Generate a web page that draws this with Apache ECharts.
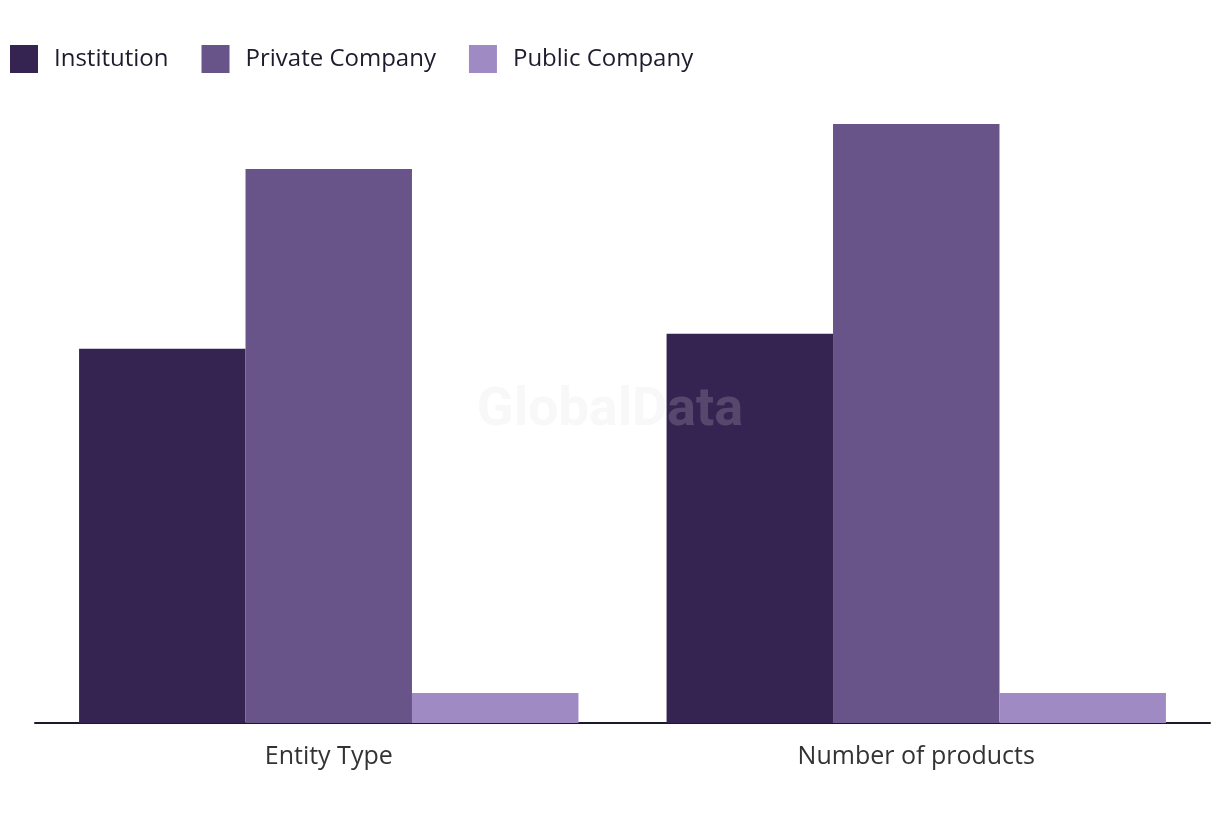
<!DOCTYPE html>
<html>
<head>
<meta charset="utf-8">
<script src="https://cdn.jsdelivr.net/npm/echarts@6/dist/echarts.min.js"></script>
<style>html,body{margin:0;padding:0;background:#fff;}#c{width:1220px;height:820px;}</style>
</head>
<body>
<div id="c"></div>
<script>
const categories = ['Entity Type', 'Number of products'];
const seriesNames = ['Institution', 'Private Company', 'Public Company'];
const institution = [25, 26];
const privateCompany = [37, 40];
const publicCompany = [2, 2];
const colors = ['#352452', '#69548a', '#a08ac4'];

const chart = echarts.init(document.getElementById('c'));
const values = [institution, privateCompany, publicCompany];
chart.setOption({
  animation: false,
  color: colors,
  legend: {
    left: 5, top: 40,
    itemWidth: 28, itemHeight: 28, itemGap: 33,
    icon: 'rect',
    textStyle: { fontFamily: 'Open Sans', fontSize: 24, color: '#1e1b2e', padding: [0, 0, 0, 11] },
    data: seriesNames
  },
  grid: { left: 35, right: 10, top: 124, bottom: 97, containLabel: false },
  xAxis: {
    type: 'category', data: categories,
    axisLine: { lineStyle: { color: '#1a1a2e', width: 2 } },
    axisTick: { show: false },
    axisLabel: { fontFamily: 'Open Sans', fontSize: 25, color: '#333', margin: 21 }
  },
  yAxis: {
    type: 'value', min: 0, max: 40,
    show: false, splitLine: { show: false }
  },
  graphic: [{
    type: 'text', left: 'center', top: 384, z: 100,
    style: { text: 'GlobalData', fontFamily: 'Roboto', fontWeight: 'bold', fontSize: 54, fill: 'rgba(220,220,220,0.2)' }
  }],
  series: seriesNames.map((n, i) => ({
    name: n, type: 'bar', data: values[i],
    barGap: '0%', barCategoryGap: '15%'
  }))
});
</script>
</body>
</html>
